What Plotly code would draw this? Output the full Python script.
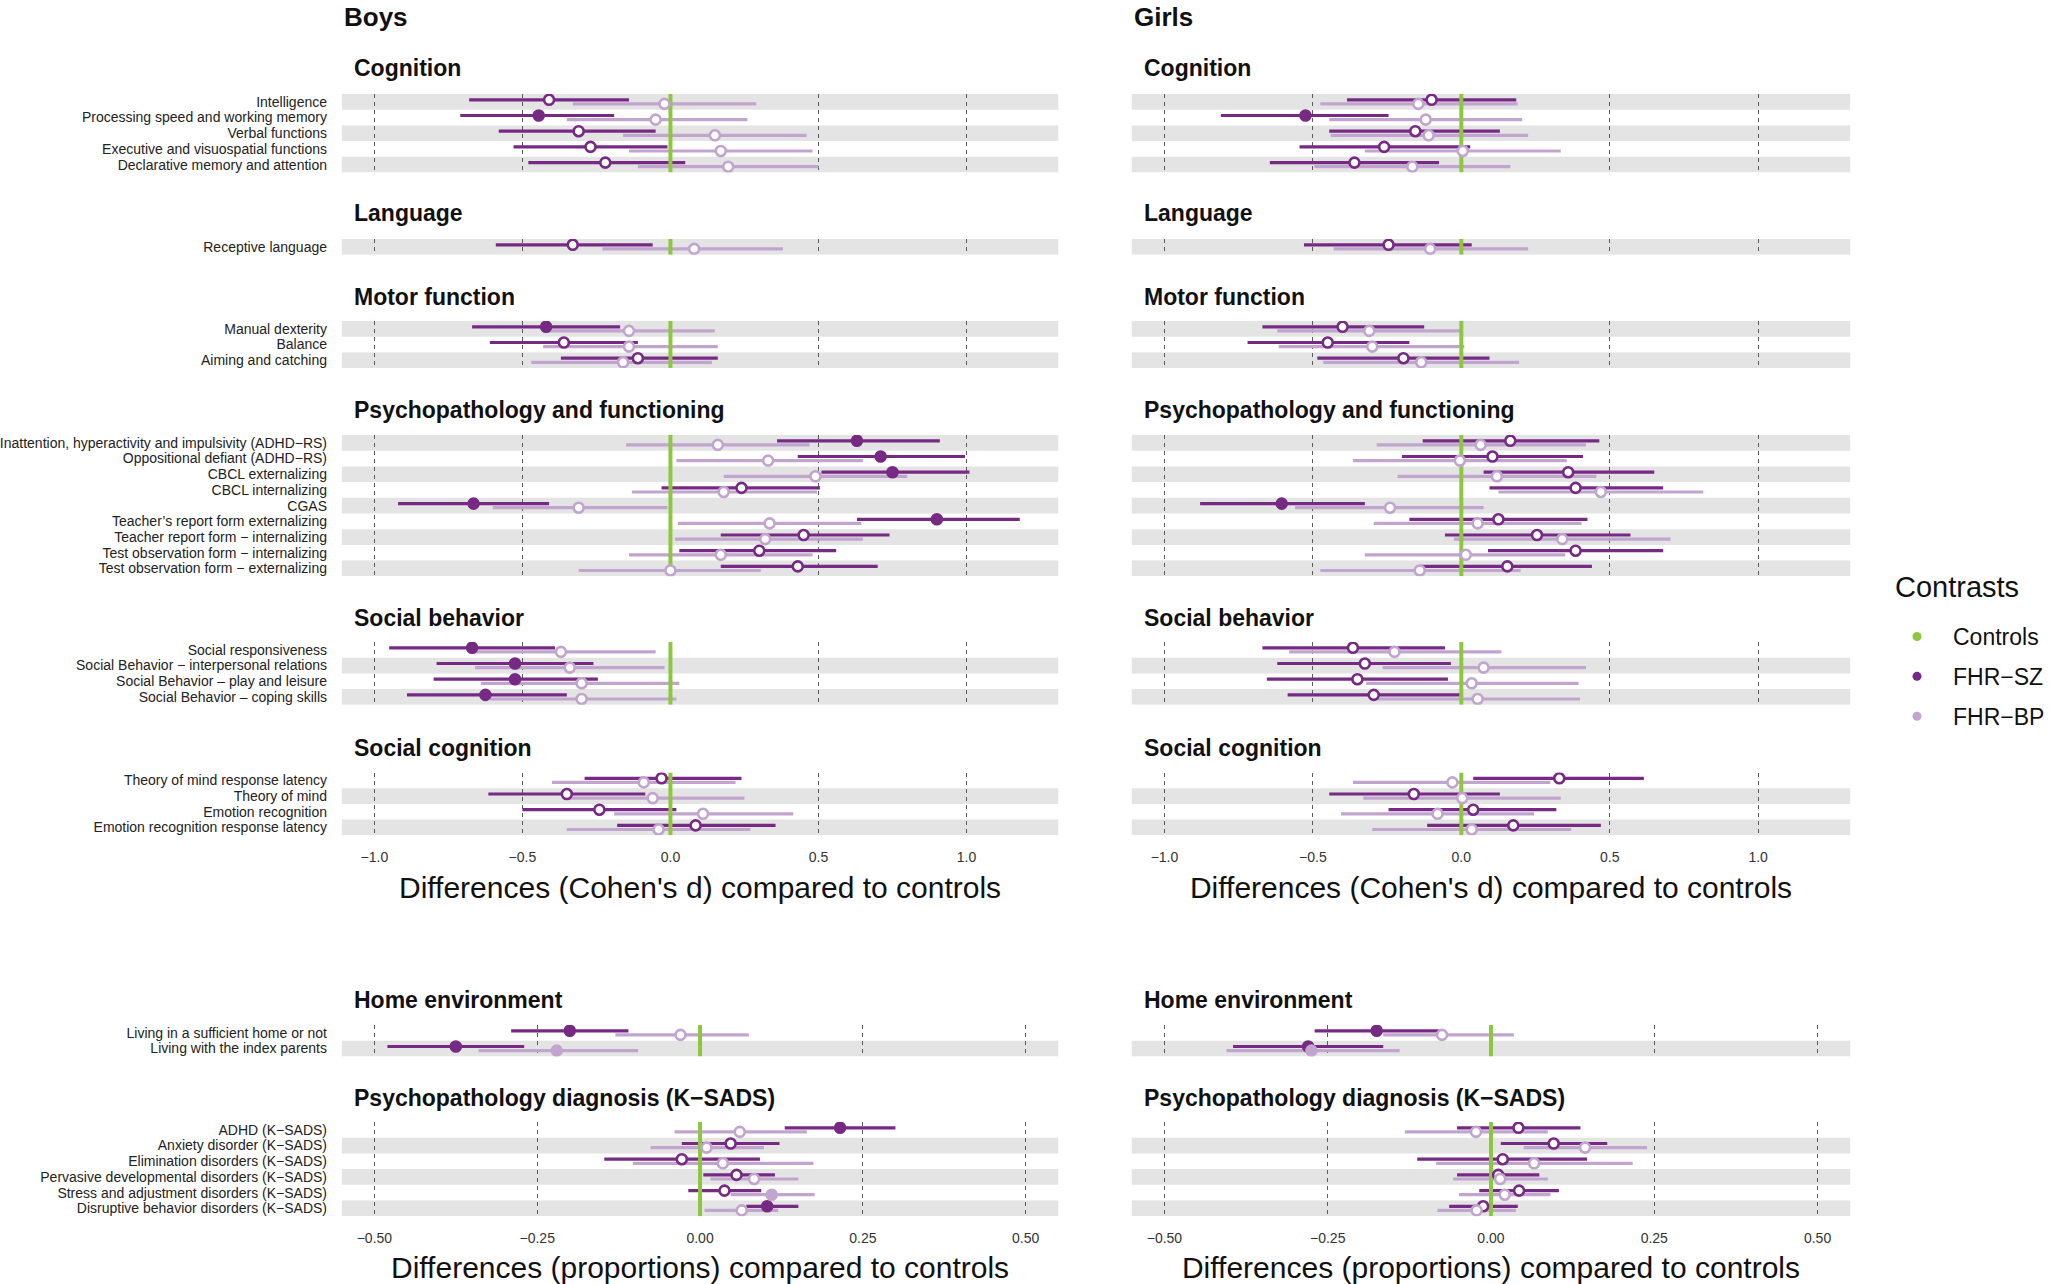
import plotly.graph_objects as go

FONT = "Liberation Sans, Arial, sans-serif"
DARK_PURPLE = "#762A83"
LIGHT_PURPLE = "#C2A5CF"
GREEN = "#8DC63F"
BAND_GRAY = "#E4E4E4"
GRID_GRAY = "#5A5A5A"
W, H = 2050, 1284

# ---- row labels per domain ----
COGNITION_ITEMS = ["Intelligence", "Processing speed and working memory", "Verbal functions",
                   "Executive and visuospatial functions", "Declarative memory and attention"]
LANGUAGE_ITEMS = ["Receptive language"]
MOTOR_ITEMS = ["Manual dexterity", "Balance", "Aiming and catching"]
PSYCH_ITEMS = ["Inattention, hyperactivity and impulsivity (ADHD\u2212RS)", "Oppositional defiant (ADHD\u2212RS)",
               "CBCL externalizing", "CBCL internalizing", "CGAS", "Teacher\u2019s report form externalizing",
               "Teacher report form \u2212 internalizing", "Test observation form \u2212 internalizing",
               "Test observation form \u2212 externalizing"]
SOCBEH_ITEMS = ["Social responsiveness", "Social Behavior \u2212 interpersonal relations",
                "Social Behavior \u2013 play and leisure", "Social Behavior \u2013 coping skills"]
SOCCOG_ITEMS = ["Theory of mind response latency", "Theory of mind", "Emotion recognition",
                "Emotion recognition response latency"]
HOME_ITEMS = ["Living in a sufficient home or not", "Living with the index parents"]
KSADS_ITEMS = ["ADHD (K\u2212SADS)", "Anxiety disorder (K\u2212SADS)", "Elimination disorders (K\u2212SADS)",
               "Pervasive developmental disorders (K\u2212SADS)", "Stress and adjustment disorders (K\u2212SADS)",
               "Disruptive behavior disorders (K\u2212SADS)"]

# ---- estimates: (estimate, lower CI, upper CI, significant) ----
BOYS_COGNITION_SZ = [(-0.41, -0.68, -0.14, 0), (-0.445, -0.71, -0.19, 1), (-0.31, -0.58, -0.05, 0),
                     (-0.27, -0.53, -0.01, 0), (-0.22, -0.48, 0.05, 0)]
BOYS_COGNITION_BP = [(-0.02, -0.33, 0.29, 0), (-0.05, -0.35, 0.26, 0), (0.15, -0.16, 0.46, 0),
                     (0.17, -0.14, 0.48, 0), (0.195, -0.11, 0.50, 0)]
BOYS_LANGUAGE_SZ = [(-0.33, -0.59, -0.06, 0)]
BOYS_LANGUAGE_BP = [(0.08, -0.23, 0.38, 0)]
BOYS_MOTOR_SZ = [(-0.42, -0.67, -0.17, 1), (-0.36, -0.61, -0.11, 0), (-0.11, -0.37, 0.16, 0)]
BOYS_MOTOR_BP = [(-0.14, -0.42, 0.15, 0), (-0.14, -0.43, 0.16, 0), (-0.16, -0.47, 0.14, 0)]
BOYS_PSYCH_SZ = [(0.63, 0.36, 0.91, 1), (0.71, 0.43, 0.995, 1), (0.75, 0.51, 1.01, 1), (0.24, -0.03, 0.505, 0),
                 (-0.665, -0.92, -0.41, 1), (0.90, 0.63, 1.18, 1), (0.45, 0.17, 0.74, 0), (0.30, 0.03, 0.56, 0),
                 (0.43, 0.17, 0.70, 0)]
BOYS_PSYCH_BP = [(0.16, -0.15, 0.47, 0), (0.33, 0.02, 0.65, 0), (0.49, 0.18, 0.80, 0), (0.18, -0.13, 0.495, 0),
                 (-0.31, -0.60, -0.01, 0), (0.335, 0.025, 0.645, 0), (0.32, 0.015, 0.65, 0),
                 (0.17, -0.14, 0.48, 0), (0.0, -0.31, 0.305, 0)]
BOYS_SOCBEH_SZ = [(-0.67, -0.95, -0.39, 1), (-0.525, -0.79, -0.26, 1), (-0.525, -0.80, -0.245, 1),
                  (-0.625, -0.89, -0.35, 1)]
BOYS_SOCBEH_BP = [(-0.37, -0.67, -0.05, 0), (-0.34, -0.66, -0.02, 0), (-0.30, -0.64, 0.03, 0),
                  (-0.30, -0.61, 0.02, 0)]
BOYS_SOCCOG_SZ = [(-0.03, -0.29, 0.24, 0), (-0.35, -0.615, -0.085, 0), (-0.24, -0.50, 0.02, 0),
                  (0.085, -0.18, 0.355, 0)]
BOYS_SOCCOG_BP = [(-0.09, -0.40, 0.22, 0), (-0.06, -0.345, 0.25, 0), (0.11, -0.19, 0.415, 0),
                  (-0.04, -0.35, 0.27, 0)]
BOYS_HOME_SZ = [(-0.20, -0.29, -0.11, 1), (-0.375, -0.48, -0.27, 1)]
BOYS_HOME_BP = [(-0.03, -0.13, 0.075, 0), (-0.22, -0.34, -0.095, 1)]
BOYS_KSADS_SZ = [(0.215, 0.13, 0.30, 1), (0.047, -0.028, 0.122, 0), (-0.028, -0.147, 0.092, 0),
                 (0.056, 0.005, 0.115, 0), (0.0375, -0.018, 0.094, 0), (0.103, 0.071, 0.151, 1)]
BOYS_KSADS_BP = [(0.061, -0.039, 0.164, 0), (0.01, -0.076, 0.098, 0), (0.035, -0.103, 0.174, 0),
                 (0.083, 0.016, 0.151, 0), (0.11, 0.047, 0.176, 1), (0.064, 0.007, 0.12, 0)]

GIRLS_COGNITION_SZ = [(-0.10, -0.385, 0.185, 0), (-0.525, -0.81, -0.245, 1), (-0.155, -0.445, 0.13, 0),
                      (-0.26, -0.545, 0.03, 0), (-0.36, -0.645, -0.075, 0)]
GIRLS_COGNITION_BP = [(-0.145, -0.475, 0.19, 0), (-0.12, -0.445, 0.205, 0), (-0.11, -0.44, 0.225, 0),
                      (0.005, -0.325, 0.335, 0), (-0.165, -0.495, 0.165, 0)]
GIRLS_LANGUAGE_SZ = [(-0.245, -0.53, 0.035, 0)]
GIRLS_LANGUAGE_BP = [(-0.105, -0.43, 0.225, 0)]
GIRLS_MOTOR_SZ = [(-0.40, -0.67, -0.125, 0), (-0.45, -0.72, -0.175, 0), (-0.195, -0.485, 0.095, 0)]
GIRLS_MOTOR_BP = [(-0.31, -0.62, -0.005, 0), (-0.30, -0.615, 0.01, 0), (-0.135, -0.465, 0.195, 0)]
GIRLS_PSYCH_SZ = [(0.165, -0.13, 0.465, 0), (0.105, -0.20, 0.41, 0), (0.36, 0.075, 0.65, 0),
                  (0.385, 0.095, 0.68, 0), (-0.605, -0.88, -0.325, 1), (0.125, -0.175, 0.425, 0),
                  (0.255, -0.055, 0.57, 0), (0.385, 0.09, 0.68, 0), (0.155, -0.14, 0.44, 0)]
GIRLS_PSYCH_BP = [(0.065, -0.285, 0.42, 0), (-0.005, -0.365, 0.355, 0), (0.12, -0.215, 0.455, 0),
                  (0.47, 0.125, 0.815, 0), (-0.24, -0.56, 0.075, 0), (0.055, -0.295, 0.405, 0),
                  (0.34, -0.025, 0.705, 0), (0.015, -0.325, 0.35, 0), (-0.14, -0.475, 0.20, 0)]
GIRLS_SOCBEH_SZ = [(-0.365, -0.67, -0.055, 0), (-0.325, -0.62, -0.035, 0), (-0.35, -0.655, -0.045, 0),
                   (-0.295, -0.585, -0.005, 0)]
GIRLS_SOCBEH_BP = [(-0.225, -0.58, 0.135, 0), (0.075, -0.265, 0.42, 0), (0.035, -0.32, 0.395, 0),
                   (0.055, -0.285, 0.40, 0)]
GIRLS_SOCCOG_SZ = [(0.33, 0.04, 0.615, 0), (-0.16, -0.445, 0.13, 0), (0.04, -0.245, 0.32, 0),
                   (0.175, -0.115, 0.47, 0)]
GIRLS_SOCCOG_BP = [(-0.03, -0.365, 0.30, 0), (0.003, -0.33, 0.335, 0), (-0.08, -0.405, 0.245, 0),
                   (0.035, -0.30, 0.37, 0)]
GIRLS_HOME_SZ = [(-0.175, -0.27, -0.08, 1), (-0.28, -0.395, -0.165, 1)]
GIRLS_HOME_BP = [(-0.075, -0.165, 0.035, 0), (-0.275, -0.405, -0.14, 1)]
GIRLS_KSADS_SZ = [(0.042, -0.052, 0.137, 0), (0.096, 0.015, 0.178, 0), (0.018, -0.113, 0.147, 0),
                  (0.011, -0.052, 0.074, 0), (0.043, -0.018, 0.104, 0), (-0.012, -0.064, 0.041, 0)]
GIRLS_KSADS_BP = [(-0.023, -0.132, 0.087, 0), (0.144, 0.05, 0.239, 0), (0.066, -0.084, 0.217, 0),
                  (0.014, -0.058, 0.087, 0), (0.021, -0.049, 0.091, 0), (-0.022, -0.082, 0.038, 0)]

COHEN_TICKS = [-1.0, -0.5, 0.0, 0.5, 1.0]
PROP_TICKS = [-0.50, -0.25, 0.0, 0.25, 0.50]
COHEN_TITLE = "Differences (Cohen's d) compared to controls"
PROP_TITLE = "Differences (proportions) compared to controls"
LEGEND_NAMES = ["Controls", "FHR\u2212SZ", "FHR\u2212BP"]

SECTIONS = [
    ("Cognition", COGNITION_ITEMS, BOYS_COGNITION_SZ, BOYS_COGNITION_BP, GIRLS_COGNITION_SZ, GIRLS_COGNITION_BP),
    ("Language", LANGUAGE_ITEMS, BOYS_LANGUAGE_SZ, BOYS_LANGUAGE_BP, GIRLS_LANGUAGE_SZ, GIRLS_LANGUAGE_BP),
    ("Motor function", MOTOR_ITEMS, BOYS_MOTOR_SZ, BOYS_MOTOR_BP, GIRLS_MOTOR_SZ, GIRLS_MOTOR_BP),
    ("Psychopathology and functioning", PSYCH_ITEMS, BOYS_PSYCH_SZ, BOYS_PSYCH_BP, GIRLS_PSYCH_SZ, GIRLS_PSYCH_BP),
    ("Social behavior", SOCBEH_ITEMS, BOYS_SOCBEH_SZ, BOYS_SOCBEH_BP, GIRLS_SOCBEH_SZ, GIRLS_SOCBEH_BP),
    ("Social cognition", SOCCOG_ITEMS, BOYS_SOCCOG_SZ, BOYS_SOCCOG_BP, GIRLS_SOCCOG_SZ, GIRLS_SOCCOG_BP),
    ("Home environment", HOME_ITEMS, BOYS_HOME_SZ, BOYS_HOME_BP, GIRLS_HOME_SZ, GIRLS_HOME_BP),
    ("Psychopathology diagnosis (K\u2212SADS)", KSADS_ITEMS, BOYS_KSADS_SZ, BOYS_KSADS_BP, GIRLS_KSADS_SZ,
     GIRLS_KSADS_BP),
]

# layout (pixels): top of each section's rows, and its title centre
ROW_H = 15.7
SECTION_TOP = [94, 239, 321, 435, 642, 772.5, 1025, 1122]
SECTION_TITLE_Y = [68, 213, 296.5, 410, 618, 748, 1000, 1098]
PANEL_X = [(342, 1063), (1137, 1860)]
PANEL_NAMES = ["Boys", "Girls"]
COHEN_RANGE = [-1.11, 1.31]
PROP_RANGE = [-0.55, 0.55]
DODGE = 0.13


def py(px):
    return 1 - px / H


fig = go.Figure()
layout = dict(shapes=[], annotations=[])
k = 0
for p, (x0, x1) in enumerate(PANEL_X):
    for s, sec in enumerate(SECTIONS):
        k += 1
        title, items = sec[0], sec[1]
        sz, bp = sec[2 + 2 * p], sec[3 + 2 * p]
        n = len(items)
        top = SECTION_TOP[s]
        bottom = top + n * ROW_H
        cohen = s < 6
        last = s in (5, 7)
        xa, ya = ("x" if k == 1 else f"x{k}"), ("y" if k == 1 else f"y{k}")
        layout[f"xaxis{k}"] = dict(
            domain=[x0 / W, x1 / W], anchor=ya, range=COHEN_RANGE if cohen else PROP_RANGE,
            tickvals=COHEN_TICKS if cohen else PROP_TICKS, tickformat=".1f" if cohen else ".2f",
            showgrid=True, griddash="4px,4px", gridcolor=GRID_GRAY, gridwidth=1,
            zeroline=False, showline=False, showticklabels=last,
            ticks="outside" if last else "", ticklen=9, tickcolor="rgba(0,0,0,0)",
            tickfont=dict(size=14, color="#333"),
            title=dict(text=(COHEN_TITLE if cohen else PROP_TITLE) if last else "",
                       font=dict(size=30, color="#111"), standoff=12),
            fixedrange=True,
        )
        layout[f"yaxis{k}"] = dict(
            domain=[py(bottom), py(top)], anchor=xa, range=[n - 0.5, -0.5],
            tickvals=list(range(n)), ticktext=items, showticklabels=(p == 0),
            ticks="outside" if p == 0 else "", ticklen=11, tickcolor="rgba(0,0,0,0)",
            tickfont=dict(size=14, color="#222"),
            showgrid=False, zeroline=False, showline=False, fixedrange=True,
        )
        # alternating bands, last row shaded
        for i in range(n):
            if (n - 1 - i) % 2 == 0:
                layout["shapes"].append(dict(
                    type="rect", xref=f"{xa} domain", yref=ya, x0=0, x1=1, y0=i - 0.5, y1=i + 0.5,
                    fillcolor=BAND_GRAY, line=dict(width=0), layer="below"))
        # section title
        layout["annotations"].append(dict(
            text=f"<b>{title}</b>", xref="paper", yref="paper", x=(x0 + 10) / W, y=py(SECTION_TITLE_Y[s]),
            xanchor="left", yanchor="middle", showarrow=False, font=dict(size=23, color="#111")))

        groups = [(sz, DARK_PURPLE, -DODGE), (bp, LIGHT_PURPLE, DODGE)]
        # confidence intervals
        for vals, col, off in groups:
            xs, ys = [], []
            for i, v in enumerate(vals):
                xs += [v[1], v[2], None]
                ys += [i + off, i + off, None]
            fig.add_trace(go.Scatter(x=xs, y=ys, mode="lines", line=dict(color=col, width=3.2),
                                     xaxis=xa, yaxis=ya, showlegend=False, hoverinfo="skip"))
        # control reference line
        fig.add_trace(go.Scatter(x=[0, 0], y=[-0.5, n - 0.5], mode="lines", line=dict(color=GREEN, width=4),
                                 xaxis=xa, yaxis=ya, showlegend=False, hoverinfo="skip"))
        # point estimates: filled if significant, open otherwise
        for vals, col, off in groups:
            fig.add_trace(go.Scatter(
                x=[v[0] for v in vals], y=[i + off for i in range(len(vals))], mode="markers",
                marker=dict(size=10, symbol="circle",
                            color=[col if v[3] else "white" for v in vals],
                            line=dict(color=col, width=2.6)),
                xaxis=xa, yaxis=ya, showlegend=False, hoverinfo="skip"))
    layout["annotations"].append(dict(
        text=f"<b>{PANEL_NAMES[p]}</b>", xref="paper", yref="paper", x=x0 / W, y=1,
        xanchor="left", yanchor="top", showarrow=False, font=dict(size=26, color="#111")))

# legend title and entries
layout["annotations"].append(dict(
    text="Contrasts", xref="paper", yref="paper", x=1903 / W, y=py(587), xanchor="left", yanchor="middle",
    showarrow=False, font=dict(size=29, color="#111")))
for name, col in zip(LEGEND_NAMES, [GREEN, DARK_PURPLE, LIGHT_PURPLE]):
    fig.add_trace(go.Scatter(x=[None], y=[None], mode="markers", name=name, legendgroup=name,
                             marker=dict(size=9, color=col)))

fig.update_layout(**layout)
fig.update_layout(
    width=W, height=H, autosize=False,
    margin=dict(l=0, r=0, t=0, b=0),
    paper_bgcolor="white", plot_bgcolor="rgba(0,0,0,0)",
    font=dict(family=FONT, color="#111"),
    showlegend=True,
    legend=dict(
        x=1891 / W, y=py(615), xanchor="left", yanchor="top",
        font=dict(size=23, color="#111"), tracegroupgap=7, itemwidth=62,
        bgcolor="rgba(0,0,0,0)",
    ),
)

fig.write_html("out.html", config={"displayModeBar": False},
               post_script="document.body.style.margin='0'; document.body.style.overflow='hidden';")
